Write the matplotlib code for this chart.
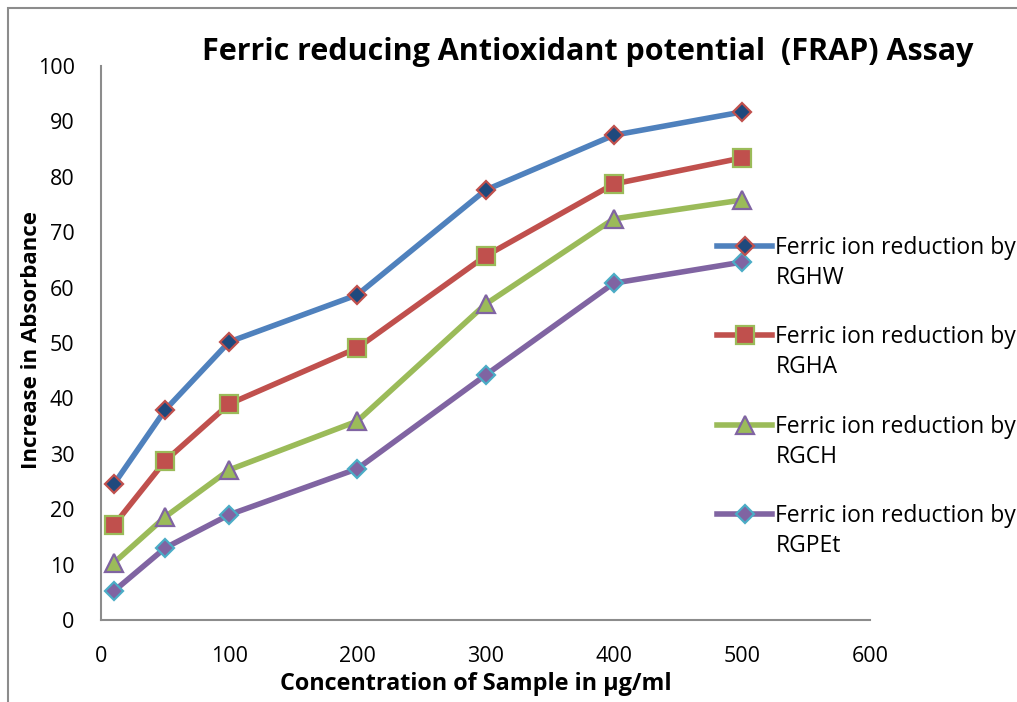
import matplotlib.pyplot as plt
from matplotlib.patches import Rectangle

conc = [10, 50, 100, 200, 300, 400, 500]
rghw = [24.5, 37.9, 50.2, 58.7, 77.6, 87.5, 91.7]
rgha = [17.1, 28.7, 39.0, 49.1, 65.7, 78.7, 83.4]
rgch = [10.3, 18.6, 27.1, 35.9, 57.0, 72.4, 75.8]
rgpet = [5.2, 13.0, 19.0, 27.3, 44.2, 60.8, 64.6]
names = ["RGHW", "RGHA", "RGCH", "RGPEt"]
xticks = [0, 100, 200, 300, 400, 500, 600]
yticks = [0, 10, 20, 30, 40, 50, 60, 70, 80, 90, 100]

plt.rcParams['font.family'] = ['Open Sans', 'DejaVu Sans']

W, H = 1017, 702
fig = plt.figure(figsize=(W / 100, H / 100), dpi=100)
ax = fig.add_axes([101 / W, 1 - 620 / H, (870 - 101) / W, (620 - 66) / H])

# outer chart border (cut off on right and bottom)
fig.patches.append(Rectangle((8 / W, -0.1), 1.2, 1 - 8 / H + 0.1, transform=fig.transFigure,
                             fill=False, edgecolor='#8c8c8c', linewidth=1.5))

styles = [
    dict(color='#4F81BD', marker='D', ms=9.5, mfc='#1F497D', mec='#C0504D'),
    dict(color='#C0504D', marker='s', ms=12.5, mfc='#C0504D', mec='#9BBB59'),
    dict(color='#9BBB59', marker='^', ms=13, mfc='#9BBB59', mec='#8064A2'),
    dict(color='#8064A2', marker='D', ms=9.5, mfc='#8064A2', mec='#4BACC6'),
]
handles = []
for vals, st in zip([rghw, rgha, rgch, rgpet], styles):
    h, = ax.plot(conc, vals, lw=4, mew=1.6, clip_on=False, **st)
    handles.append(h)

ax.set_xlim(0, 600)
ax.set_ylim(0, 100)
ax.set_xticks(xticks)
ax.set_yticks(yticks)
ax.tick_params(length=0, labelsize=15.5)
ax.tick_params(axis='x', pad=19)
ax.tick_params(axis='y', pad=19)
for s in ['top', 'right']:
    ax.spines[s].set_visible(False)
for s in ['left', 'bottom']:
    ax.spines[s].set_color('#8c8c8c')
    ax.spines[s].set_linewidth(1.5)

fig.text(588 / W, 1 - 52 / H, "Ferric reducing Antioxidant potential  (FRAP) Assay",
         ha='center', va='center', fontsize=22, fontweight='bold')
fig.text(476 / W, 1 - 684 / H, "Concentration of Sample in µg/ml",
         ha='center', va='center', fontsize=16.8, fontweight='bold')
fig.text(32 / W, 1 - 340 / H, "Increase in Absorbance", rotation=90,
         ha='center', va='center', fontsize=16, fontweight='bold')

leg = fig.legend(handles, ["Ferric ion reduction by"] * 4, loc='upper left',
                 bbox_to_anchor=(717 / W, 1 - 236 / H), frameon=False,
                 fontsize=16.5, handlelength=2.4, handletextpad=0.15,
                 labelspacing=2.85, borderpad=0, borderaxespad=0)

fig.canvas.draw()
inv = fig.transFigure.inverted()
for t, name in zip(leg.get_texts(), names):
    bb = t.get_window_extent()
    x0, y0 = inv.transform((bb.x0, bb.y0))
    fig.text(x0, y0 - 6 / H, name, ha='left', va='top', fontsize=16.5)

fig.savefig("out.png", dpi=100)
